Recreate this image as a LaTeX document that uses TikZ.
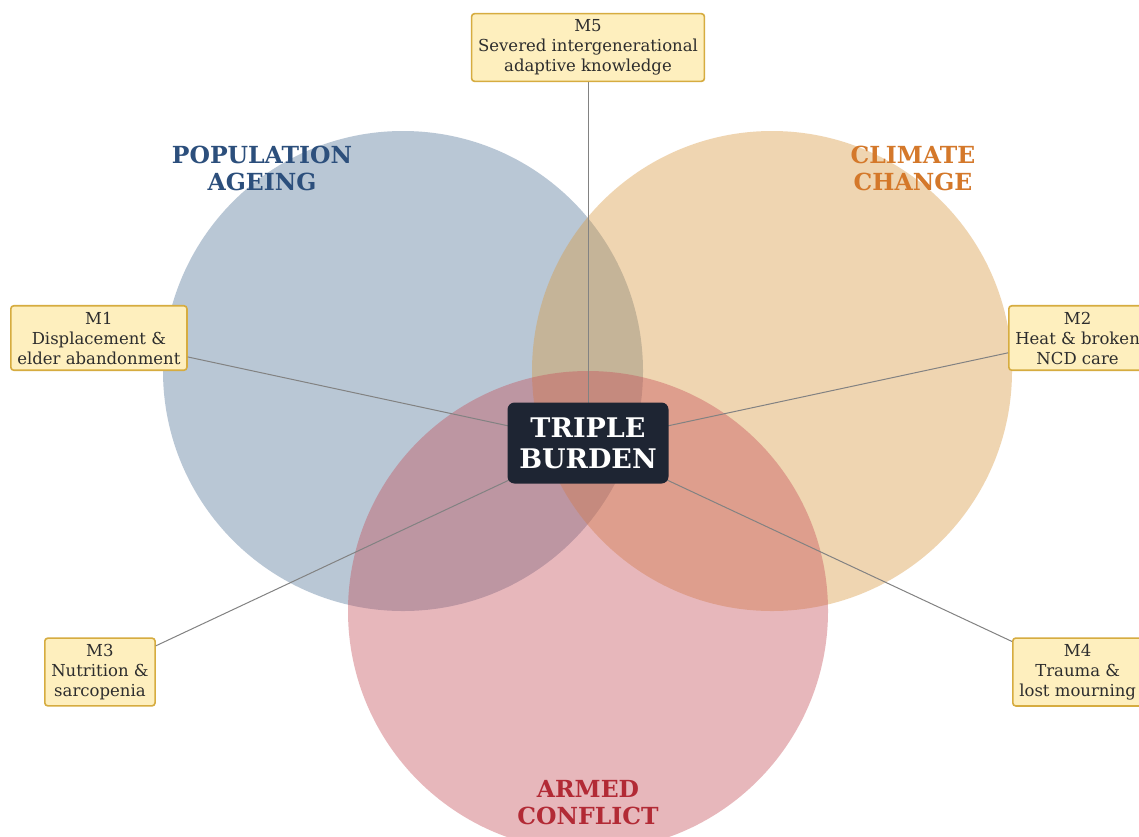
\documentclass[tikz,border=0pt]{standalone}
\usepackage{fontspec}
\setmainfont{DejaVu Serif}
\definecolor{agebase}{RGB}{80,115,152}
\definecolor{climbase}{RGB}{217,152,62}
\definecolor{confbase}{RGB}{197,77,87}
\definecolor{agetext}{RGB}{44,79,124}
\definecolor{climtext}{RGB}{212,120,42}
\definecolor{conftext}{RGB}{178,42,53}
\definecolor{boxfill}{RGB}{254,239,190}
\definecolor{boxedge}{RGB}{214,172,64}
\definecolor{boxtext}{RGB}{45,45,45}
\definecolor{centrefill}{RGB}{30,37,51}
\definecolor{linkgray}{RGB}{130,130,130}
\tikzset{
  circ/.style={fill=#1, fill opacity=0.4, draw=none},
  title/.style={font=\fontsize{23.5}{27}\selectfont\bfseries, align=center, text=#1},
  mbox/.style={draw=boxedge, line width=1.6pt, fill=boxfill, rounded corners=3pt,
    align=center, text=boxtext, font=\fontsize{16.5}{20}\selectfont, inner xsep=6.5pt, inner ysep=6pt},
  centrebox/.style={fill=centrefill, rounded corners=7pt, text=white, align=center,
    font=\fontsize{27}{31}\selectfont\bfseries, minimum width=161pt, minimum height=81pt, inner sep=2pt},
  link/.style={draw=linkgray, line width=1pt}
}
\begin{document}
\begin{tikzpicture}[x=1pt,y=-1pt]
\useasboundingbox (0,0) rectangle (1139,836);
\clip (0,0) rectangle (1139,836);
\fill[white] (0,0) rectangle (1139,836);
% circles
\fill[circ=agebase] (403,371) circle (240);
\fill[circ=climbase] (772,371) circle (240);
\fill[circ=confbase] (588,611) circle (240);
% titles
\node[title=agetext] (tage) at (262,168) {POPULATION\\AGEING};
\node[title=climtext] (tclim) at (913,168) {CLIMATE\\CHANGE};
\node[title=conftext] (tconf) at (588,803) {ARMED\\CONFLICT};
% mechanism boxes
\node[mbox] (m5) at (588,47.5) {M5\\Severed intergenerational\\adaptive knowledge};
\node[mbox, anchor=west] (m1) at (10,338) {M1\\Displacement \&\\elder abandonment};
\node[mbox, anchor=west] (m2) at (1008,338) {M2\\Heat \& broken\\NCD care};
\node[mbox, anchor=west] (m3) at (44,672) {M3\\Nutrition \&\\sarcopenia};
\node[mbox, anchor=west] (m4) at (1012,672) {M4\\Trauma \&\\lost mourning};
% centre
\coordinate (tbc) at (588,443);
\draw[link] (m5) -- (tbc);
\draw[link] (m1) -- (tbc);
\draw[link] (m2) -- (tbc);
\draw[link] (m3) -- (tbc);
\draw[link] (m4) -- (tbc);
\node[centrebox] (tb) at (tbc) {TRIPLE\\BURDEN};
\end{tikzpicture}
\end{document}
